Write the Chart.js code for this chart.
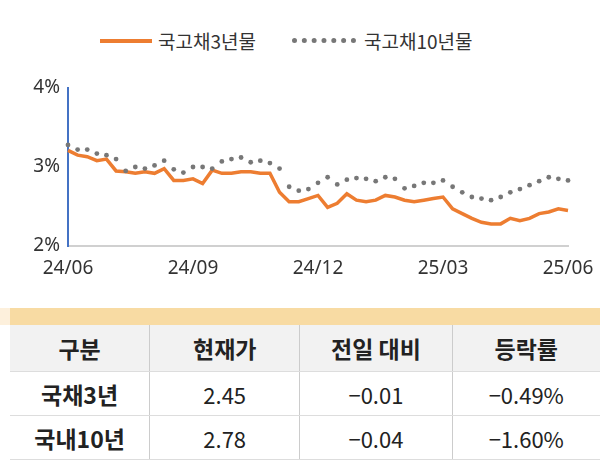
<!DOCTYPE html>
<html><head><meta charset="utf-8">
<script src="https://cdn.jsdelivr.net/npm/chart.js@4/dist/chart.umd.min.js"></script>
<style>
body{margin:0;width:600px;height:463px;background:#fff;font-family:"Noto Sans CJK KR","Noto Sans",sans-serif;overflow:hidden;position:relative}
#legend{position:absolute;top:24px;left:100px;font-size:19px;color:#333;white-space:nowrap}
#legend span{display:inline-block;vertical-align:middle}
#wrap{position:absolute;top:0;left:0;width:600px;height:300px}
#band{position:absolute;top:308px;left:10px;width:590px;height:17px;background:#f8dba3}
#band0{position:absolute;top:308px;left:0;width:10px;height:17px;background:#fdf0dc}
table{position:absolute;top:325px;left:10px;width:590px;border-collapse:collapse;font-size:22px;color:#222}
td{text-align:center;border-left:1px solid #ccc;border-bottom:1px solid #ddd;padding:0}
td:first-child{border-left:none;font-weight:bold;font-size:23px}
tr.h td{background:#f2f2f2;height:46px;font-weight:bold;font-size:23px}
tr.r td{height:43px}
</style></head><body>
<div id="legend"><span style="width:52px;height:4px;background:#ed7d31"></span><span style="margin:0 36px 0 6px">국고채3년물</span><span style="width:64px;border-top:5px dotted #777"></span><span style="margin-left:8px">국고채10년물</span></div>
<div id="wrap"><canvas id="c"></canvas></div>
<div id="band0"></div><div id="band"></div>
<table id="tbl"></table>
<script>
const tickLabels = {0:"24/06",13:"24/09",26:"24/12",39:"25/03",52:"25/06"};
const ktb3 = [3.21,3.15,3.13,3.08,3.10,2.95,2.94,2.92,2.94,2.92,2.98,2.83,2.83,2.85,2.79,2.96,2.92,2.92,2.94,2.94,2.92,2.92,2.68,2.56,2.56,2.60,2.64,2.49,2.54,2.66,2.58,2.56,2.58,2.64,2.62,2.58,2.56,2.58,2.60,2.62,2.47,2.41,2.35,2.30,2.28,2.28,2.35,2.32,2.35,2.41,2.43,2.47,2.45];
const ktb10 = [3.28,3.22,3.22,3.17,3.15,3.10,2.95,3.00,2.98,3.02,3.08,2.97,2.93,3.00,3.00,2.98,3.07,3.10,3.12,3.06,3.08,3.05,2.98,2.75,2.70,2.72,2.80,2.87,2.78,2.84,2.86,2.85,2.82,2.87,2.85,2.73,2.76,2.80,2.80,2.83,2.75,2.68,2.62,2.60,2.58,2.62,2.68,2.72,2.77,2.82,2.87,2.85,2.83];
const headers = ["구분","현재가","전일 대비","등락률"];
const rows = [["국채3년","2.45","−0.01","−0.49%"],["국내10년","2.78","−0.04","−1.60%"]];

let t = document.getElementById("tbl");
t.innerHTML = '<tr class="h">' + headers.map(h=>`<td>${h}</td>`).join("") + '</tr>' +
  rows.map(r=>'<tr class="r">' + r.map(v=>`<td>${v}</td>`).join("") + '</tr>').join("");
[...t.rows[0].cells].forEach((c,i)=>c.style.width=[140,150,152,148][i]+"px");

new Chart(document.getElementById("c"), {
  type: "line",
  data: {
    labels: ktb3.map((_,i)=>i),
    datasets: [
      {data: ktb10, showLine:false, pointRadius:2.4, pointBackgroundColor:"#777", pointBorderWidth:0},
      {data: ktb3, borderColor:"#ed7d31", borderWidth:3.5, pointRadius:0, tension:0}
    ]
  },
  options: {
    animation:false, responsive:true, maintainAspectRatio:false,
    layout:{padding:{top:88,right:32,left:0,bottom:0}},
    plugins:{legend:{display:false},tooltip:{enabled:false}},
    scales:{
      x:{grid:{display:false,drawTicks:true},border:{color:"#d0d0d0",width:2},
         afterFit:s=>{s.height=54},
         ticks:{autoSkip:false,maxRotation:0,color:"#333",font:{size:19,family:"Noto Sans"},
           callback:(v,i)=>tickLabels[i]||null}},
      y:{min:2,max:4,afterFit:s=>{s.width=68},
         grid:{display:false,drawOnChartArea:false,drawTicks:true,tickLength:5,color:"#4472c4"},border:{color:"#4472c4",width:2},
         ticks:{stepSize:1,color:"#333",font:{size:19,family:"Noto Sans"},callback:v=>v+"%"}}
    }
  }
});
</script>
</body></html>
